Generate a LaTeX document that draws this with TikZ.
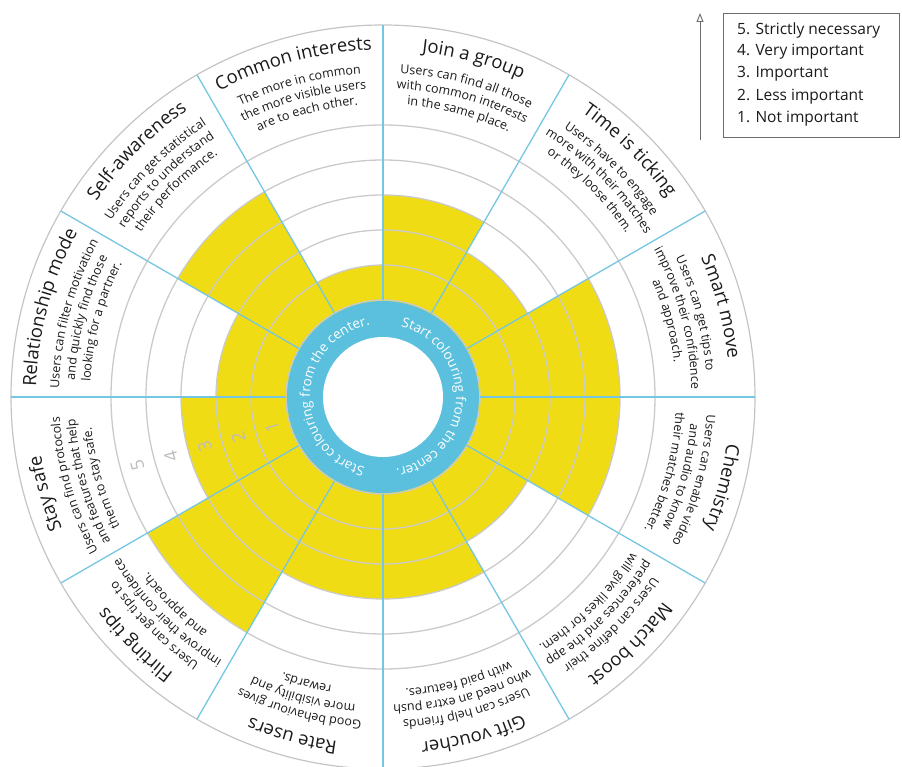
\documentclass[tikz,border=0pt]{standalone}
\usepackage{fontspec}
\setmainfont{Open Sans}
\usetikzlibrary{decorations.text,arrows.meta}
\definecolor{yel}{HTML}{F0DC14}
\definecolor{ringblue}{HTML}{5BC0DE}
\definecolor{sepblue}{HTML}{74C6E2}
\definecolor{ringgray}{HTML}{CACACA}
\definecolor{outergray}{HTML}{C4C4C4}
\definecolor{numgray}{HTML}{BDBDBD}
\definecolor{txt}{HTML}{1A1A1A}
\newcommand\titlefont{\fontsize{18.5}{19}\selectfont\color{txt}}
\newcommand\descfont{\fontsize{12.5}{13}\selectfont\color{txt}}
\newcommand\arcline[4]{%
  \path[decorate,decoration={text along path,text align=center,text={|#3|#4}}]
    ({#2+50}:#1) arc[start angle={#2+50}, end angle={#2-50}, radius=#1];}
\newcommand\sector[5]{% angle, title, line1, line2, line3
  \arcline{347}{#1}{\titlefont}{#2}
  \arcline{324}{#1}{\descfont}{#3}
  \arcline{308.5}{#1}{\descfont}{#4}
  \arcline{293}{#1}{\descfont}{#5}}
\tikzset{
  ringline/.style={ringgray, line width=1.3},
  sepline/.style={sepblue, line width=1.3},
  ringnum/.style={numgray, font=\fontsize{18}{18}\selectfont, rotate=105.5},
  legendline/.style={anchor=west, inner sep=0, text=txt, font=\fontsize{15.5}{16}\selectfont}
}
\begin{document}
\begin{tikzpicture}[x=1pt,y=1pt]
\useasboundingbox (-383,-370) rectangle (519,397);
% yellow fills
\foreach \a/\r in {90/132, 60/202, 30/167, 0/237, -30/237, -60/167, -90/202, -120/202, -150/272, -180/202, 150/167, 120/237} {
  \fill[yel] (0,0) -- (\a:\r) arc[start angle=\a, end angle=\a+30, radius=\r] -- cycle;
}
% ring circles
\foreach \r in {97,132,167,202,237,272} \draw[ringline] (0,0) circle[radius=\r];
\draw[outergray, line width=1.2] (0,0) circle[radius=372];
% separators
\foreach \a in {0,30,...,330} \draw[sepline] (\a:97) -- (\a:372);
% centre ring
\fill[ringblue] (0,0) circle[radius=96];
\fill[white] (0,0) circle[radius=60];
\path[decorate,decoration={text along path,text align=center,text={|\fontsize{13.5}{14}\selectfont\color{white}|Start colouring from the center.}}]
  (88:73) arc[start angle=88, end angle=-92, radius=73];
\path[decorate,decoration={text along path,text align=center,text={|\fontsize{13.5}{14}\selectfont\color{white}|Start colouring from the center.}}]
  (268:73) arc[start angle=268, end angle=88, radius=73];
% ring numbers
\node[ringnum] (n1) at (195.5:115) {1};
\node[ringnum] (n2) at (195.5:150) {2};
\node[ringnum] (n3) at (195.5:185) {3};
\node[ringnum] (n4) at (195.5:220) {4};
\node[ringnum] (n5) at (195.5:255) {5};
% sector texts
\sector{105}{Common interests}{The more in common}{the more visible users}{are to each other.}
\sector{75}{Join a group}{Users can find all those}{with common interests}{in the same place.}
\sector{45}{Time is ticking}{Users have to engage}{more with their matches}{or they loose them.}
\sector{15}{Smart move}{Users can get tips to}{improve their confidence}{and approach.}
\sector{-15}{Chemistry}{Users can enable video}{and audio to know}{their matches better.}
\sector{-45}{Match boost}{Users can define their}{preferences and the app}{will give likes for them.}
\sector{-75}{Gift voucher}{Users can help friends}{who need an extra push}{with paid features.}
\sector{-105}{Rate users}{Good behaviour gives}{more visibility and}{rewards.}
\sector{-135}{Flirting tips}{Users can get tips to}{improve their confidence}{and approach.}
\sector{-164}{Stay safe}{Users can find protocols}{and features that help}{them to stay safe.}
\sector{165}{Relationship mode}{Users can filter motivation}{and quickly find those}{looking for a partner.}
\sector{135}{Self-awareness}{Users can get statistical}{reports to understand}{their performance.}
% legend
\coordinate (arrS) at (317,257);
\coordinate (arrE) at (317,384);
\draw[gray!85!black, line width=0.9, -{Triangle[open,length=9pt,width=7pt]}] (arrS) -- (arrE);
\node[draw=gray!85!black, line width=0.9, minimum width=176pt, minimum height=124pt, anchor=north west, inner sep=0] (legend) at (340,384) {};
\node[legendline] (l5) at (354,367) {5. Strictly necessary};
\node[legendline] (l4) at (354,345) {4. Very important};
\node[legendline] (l3) at (354,323) {3. Important};
\node[legendline] (l2) at (354,300) {2. Less important};
\node[legendline] (l1) at (354,278) {1. Not important};
\end{tikzpicture}
\end{document}
